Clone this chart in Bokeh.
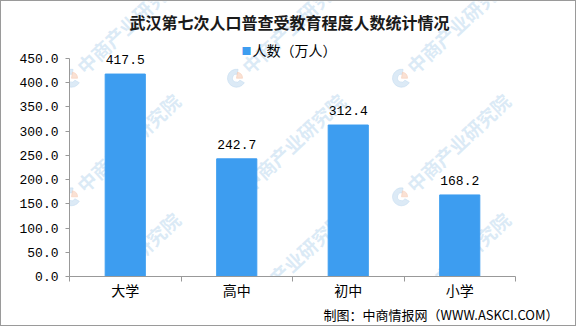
import math
from bokeh.plotting import figure
from bokeh.models import (ColumnDataSource, FixedTicker, Range1d, Title, Label,
                          NumeralTickFormatter, LabelSet)
from bokeh.core.properties import value
from bokeh.embed import file_html
from bokeh.resources import INLINE

categories = ["大学", "高中", "初中", "小学"]
values = [417.5, 242.7, 312.4, 168.2]
y_ticks = [0, 50, 100, 150, 200, 250, 300, 350, 400, 450]
title_text = "武汉第七次人口普查受教育程度人数统计情况"
series_name = "人数（万人）"
source_text = "制图：中商情报网（WWW.ASKCI.COM）"
watermark_text = "中商产业研究院"

BAR = "#3d9df0"
CJK = "Noto Sans CJK SC"
NUM = "Liberation Mono"

# frame spans from canvas top to the x axis; axis max sits 57 px below top
FRAME_L = 68
FRAME_W = 446
FRAME_H = 276
Y_MAX = y_ticks[-1]
y_end = Y_MAX * FRAME_H / (FRAME_H - 57)

xs = [i + 0.5 for i in range(len(categories))]
src = ColumnDataSource(dict(x=xs, top=values, lab=[f"{v:.1f}" for v in values]))

p = figure(width=576, height=326, output_backend="svg", toolbar_location=None,
           x_range=Range1d(0, len(categories)), y_range=Range1d(0, y_end),
           min_border_left=FRAME_L, min_border_right=576 - FRAME_L - FRAME_W,
           min_border_top=0, min_border_bottom=0, background_fill_color="white",
           border_fill_color="white")
p.outline_line_color = None
p.grid.visible = False
p.styles = {"border": "1px solid #9a9a9a", "box-sizing": "border-box"}

# faint watermark pattern (decoration, in pixel grid -> data units)
def px_to_data(px, py):
    return ((px - FRAME_L) / FRAME_W * len(categories), (FRAME_H - py) / FRAME_H * y_end)

wm_x, wm_y, lg_x, lg_y = [], [], [], []
for row in range(3):
    for col in range(4):
        cx, cy = 70 + 165 * col, 77 + 119 * row
        a, b = px_to_data(cx, cy)
        lg_x.append(a); lg_y.append(b)
        a, b = px_to_data(cx + 8, cy - 9)
        wm_x.append(a); wm_y.append(b)
p.text(x=wm_x, y=wm_y, text=[watermark_text] * len(wm_x), angle=math.radians(43),
       text_align="left", text_baseline="middle", text_font=value(CJK),
       text_font_size="19px", text_font_style="bold", text_color="#c4dcf0",
       text_alpha=0.6)
p.annular_wedge(x=lg_x, y=lg_y, inner_radius=4, outer_radius=9,
                inner_radius_units="screen", outer_radius_units="screen",
                start_angle=math.radians(80), end_angle=math.radians(330),
                color="#c4dcf0", alpha=0.6)
p.wedge(x=lg_x, y=lg_y, radius=6, radius_units="screen",
        start_angle=math.radians(0), end_angle=math.radians(80),
        color="#f6cdb8", alpha=0.6)

r = p.vbar(x="x", top="top", width=0.36, color=BAR, source=src)

p.add_layout(LabelSet(x="x", y="top", text="lab", source=src, text_align="center",
                      text_baseline="bottom", y_offset=10, text_font=value(NUM),
                      text_font_size="13px", text_color="black"))

# y axis
ya = p.yaxis[0]
ya.ticker = FixedTicker(ticks=y_ticks, minor_ticks=[])
ya.bounds = (0, Y_MAX)
ya.formatter = NumeralTickFormatter(format="0.0")
ya.axis_line_color = "#999999"
ya.major_tick_line_color = "#999999"
ya.major_tick_in = 0
ya.major_tick_out = 4
ya.minor_tick_line_color = None
ya.major_label_text_font = NUM
ya.major_label_text_font_size = "13px"
ya.major_label_text_color = "black"
ya.major_label_standoff = 7

# x axis
xa = p.xaxis[0]
xa.ticker = FixedTicker(ticks=xs, minor_ticks=list(range(len(categories) + 1)))
xa.major_label_overrides = {x: c for x, c in zip(xs, categories)}
xa.axis_line_color = "#999999"
xa.major_tick_line_color = None
xa.minor_tick_line_color = "#999999"
xa.minor_tick_in = 0
xa.minor_tick_out = 5
xa.major_label_text_font = CJK
xa.major_label_text_font_size = "14px"
xa.major_label_text_color = "black"
xa.major_label_standoff = -3

# title and legend, drawn in screen units relative to the frame
p.add_layout(Label(x=288 - FRAME_L, y=FRAME_H - 21, x_units="screen", y_units="screen",
                   text=title_text, text_align="center", text_baseline="middle",
                   text_font=CJK, text_font_size="16px", text_font_style="bold",
                   text_color="#1a1a1a"))
p.add_layout(Label(x=240 - FRAME_L, y=FRAME_H - 50, x_units="screen", y_units="screen",
                   text="■", text_align="left", text_baseline="middle",
                   text_font=CJK, text_font_size="10px", text_color=BAR))
p.add_layout(Label(x=251 - FRAME_L, y=FRAME_H - 49, x_units="screen", y_units="screen",
                   text=series_name, text_align="left", text_baseline="middle",
                   text_font=CJK, text_font_size="14px", text_color="black"))

# source note
p.add_layout(Title(text=source_text, align="right", text_font=CJK,
                   text_font_size="13px", text_font_style="normal",
                   text_color="black", offset=-43, standoff=4,
                   vertical_align="top"), "below")

open("out.html", "w").write(file_html(p, INLINE))
